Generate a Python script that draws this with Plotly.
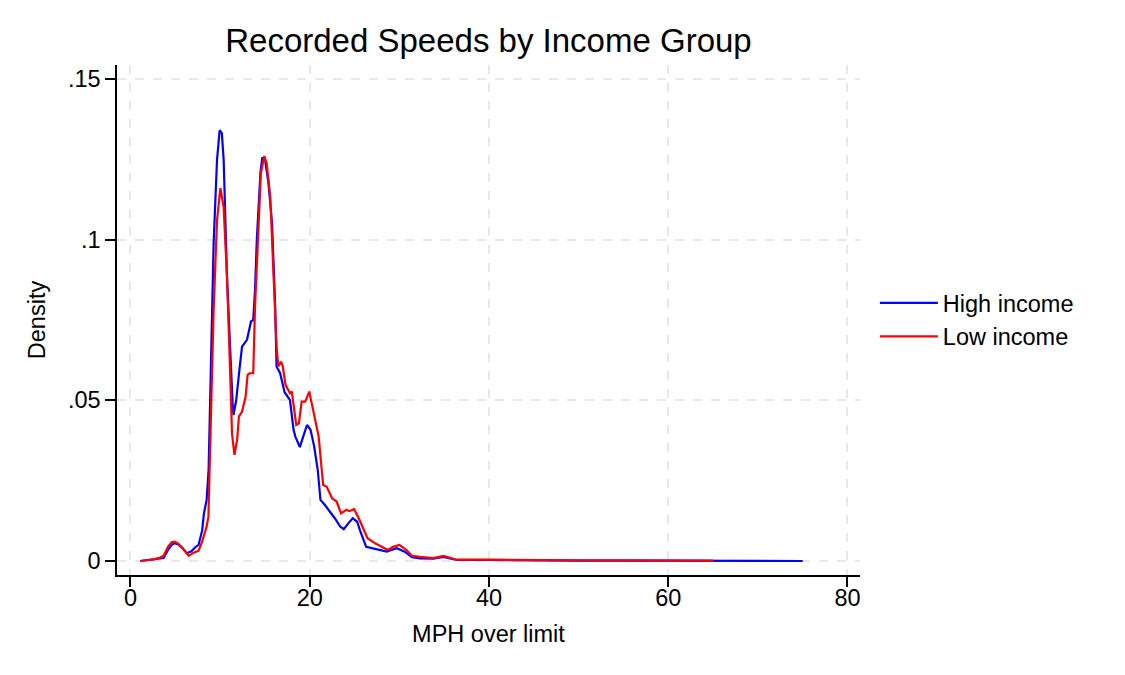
import plotly.graph_objects as go

# MPH over limit (x) and kernel density (y)
high_x = [1.1, 2.0, 2.6, 3.3, 3.7, 4.2, 4.6, 4.9, 5.3, 5.8, 6.3, 6.8, 7.2, 7.6, 8.0, 8.2, 8.5,
          8.72, 9.0, 9.28, 9.66, 9.95, 10.2, 10.4, 10.77, 11.14, 11.4, 11.5, 11.8, 12.1, 12.45,
          13.0, 13.45, 13.7, 13.9, 14.1, 14.5, 14.7, 15.0, 15.4, 15.8, 16.15, 16.3, 16.7, 17.2,
          17.8, 18.2, 18.4, 18.9, 19.3, 19.7, 20.1, 20.5, 20.9, 21.2, 21.7, 22.3, 22.8, 23.4,
          23.8, 24.3, 24.8, 25.3, 25.6, 26.3, 27.1, 27.9, 28.6, 29.7, 30.6, 31.4, 32.3, 33.8,
          34.9, 35.7, 36.4, 39.7, 45, 50, 55, 60, 65, 70, 75]
high_y = [0.0, 0.0003, 0.0005, 0.0007, 0.0009, 0.0035, 0.0050, 0.0055, 0.0052, 0.0040, 0.0024,
          0.0030, 0.0042, 0.0050, 0.0095, 0.0148, 0.0190, 0.0283, 0.0650, 0.0988, 0.1248, 0.1340,
          0.1330, 0.1248, 0.0885, 0.0625, 0.0490, 0.0454, 0.0500, 0.0580, 0.0667, 0.0688, 0.0745,
          0.0750, 0.0843, 0.0999, 0.1206, 0.1253, 0.1253, 0.1175, 0.1050, 0.0791, 0.0605, 0.0584,
          0.0525, 0.0500, 0.0408, 0.0387, 0.0354, 0.0389, 0.0423, 0.0408, 0.0356, 0.0283, 0.0190,
          0.0174, 0.0153, 0.0133, 0.0107, 0.0099, 0.0117, 0.0133, 0.0122, 0.0096, 0.0044, 0.0040,
          0.0034, 0.0029, 0.0040, 0.0029, 0.0012, 0.0008, 0.0007, 0.0013, 0.0007, 0.0003, 0.0003,
          0.0001, 0.0001, 0.0001, 0.0001, 0.0001, 0.0, 0.0]

low_x = [1.1, 2.0, 2.6, 3.3, 3.7, 4.2, 4.6, 4.9, 5.3, 5.8, 6.2, 6.5, 7.0, 7.6, 8.0, 8.5, 8.7,
         8.84, 9.0, 9.28, 9.66, 10.03, 10.4, 10.77, 11.14, 11.33, 11.6, 11.9, 12.1, 12.45, 12.85,
         13.07, 13.3, 13.7, 13.9, 14.2, 14.55, 14.93, 15.2, 15.6, 15.97, 16.3, 16.5, 16.8, 17.0,
         17.3, 17.8, 18.0, 18.5, 18.8, 19.1, 19.5, 19.95, 20.4, 21.0, 21.5, 21.9, 22.5, 23.0,
         23.5, 24.1, 24.4, 24.95, 25.55, 26.0, 26.45, 27.3, 28.0, 28.7, 29.3, 30.0, 30.8, 31.4,
         32.3, 33.8, 34.9, 35.7, 36.4, 39.7, 45, 50, 55, 60, 65]
low_y = [0.0, 0.0003, 0.0005, 0.0011, 0.0016, 0.0045, 0.0058, 0.0060, 0.0055, 0.0040, 0.0024,
         0.0016, 0.0025, 0.0032, 0.0060, 0.0107, 0.0138, 0.0283, 0.0500, 0.0780, 0.1060, 0.1160,
         0.1100, 0.0885, 0.0573, 0.0397, 0.0330, 0.0376, 0.0449, 0.0465, 0.0511, 0.0579, 0.0584,
         0.0584, 0.0791, 0.0999, 0.1206, 0.1260, 0.1237, 0.1133, 0.0895, 0.0667, 0.0605, 0.0620,
         0.0605, 0.0548, 0.0522, 0.0527, 0.0423, 0.0428, 0.0496, 0.0496, 0.0527, 0.0465, 0.0387,
         0.0236, 0.0231, 0.0195, 0.0185, 0.0148, 0.0159, 0.0155, 0.0161, 0.0128, 0.0102, 0.0071,
         0.0055, 0.0044, 0.0034, 0.0044, 0.0050, 0.0034, 0.0016, 0.0013, 0.0009, 0.0016, 0.0009,
         0.0004, 0.0004, 0.0002, 0.0002, 0.0002, 0.0001, 0.0001]

x_ticks = [0, 20, 40, 60, 80]
x_tick_labels = ["0", "20", "40", "60", "80"]
y_ticks = [0, 0.05, 0.1, 0.15]
y_tick_labels = ["0", ".05", ".1", ".15"]

FONT = "Liberation Sans, Arial, sans-serif"
FS = 23.5

fig = go.Figure()
fig.add_trace(go.Scatter(x=high_x, y=high_y, mode="lines", name="High income",
                         line=dict(color="#0000ff", width=2.2)))
fig.add_trace(go.Scatter(x=low_x, y=low_y, mode="lines", name="Low income",
                         line=dict(color="#ff0000", width=2.2)))

axis_common = dict(
    showline=True, linecolor="black", linewidth=1.5, mirror=False,
    ticks="outside", ticklen=10, tickwidth=1.5, tickcolor="black",
    showgrid=True, gridcolor="#e8e8e8", gridwidth=1.8, griddash="dash",
    zeroline=False, tickfont=dict(family=FONT, size=FS, color="black"),
)

fig.update_layout(
    width=1125, height=675,
    paper_bgcolor="white", plot_bgcolor="white",
    margin=dict(l=117, r=265, t=65, b=100),
    title=dict(text="Recorded Speeds by Income Group", x=0.4342, xanchor="center",
               y=0.94, yanchor="middle",
               font=dict(family=FONT, size=33, color="black")),
    xaxis=dict(range=[-1.5, 81.4], tickvals=x_ticks, ticktext=x_tick_labels,
               ticklabelstandoff=-9,
               title=dict(text="MPH over limit", font=dict(family=FONT, size=FS, color="black"),
                          standoff=16),
               **axis_common),
    yaxis=dict(range=[-0.00436, 0.1543], tickvals=y_ticks, ticktext=y_tick_labels,
               title=dict(text="Density", font=dict(family=FONT, size=FS, color="black"),
                          standoff=16),
               **axis_common),
    legend=dict(x=1.02, y=0.5, xanchor="left", yanchor="middle",
                font=dict(family=FONT, size=FS, color="black"),
                bgcolor="rgba(0,0,0,0)", itemwidth=58, tracegroupgap=4),
    showlegend=True,
)

fig.write_html("out.html")
